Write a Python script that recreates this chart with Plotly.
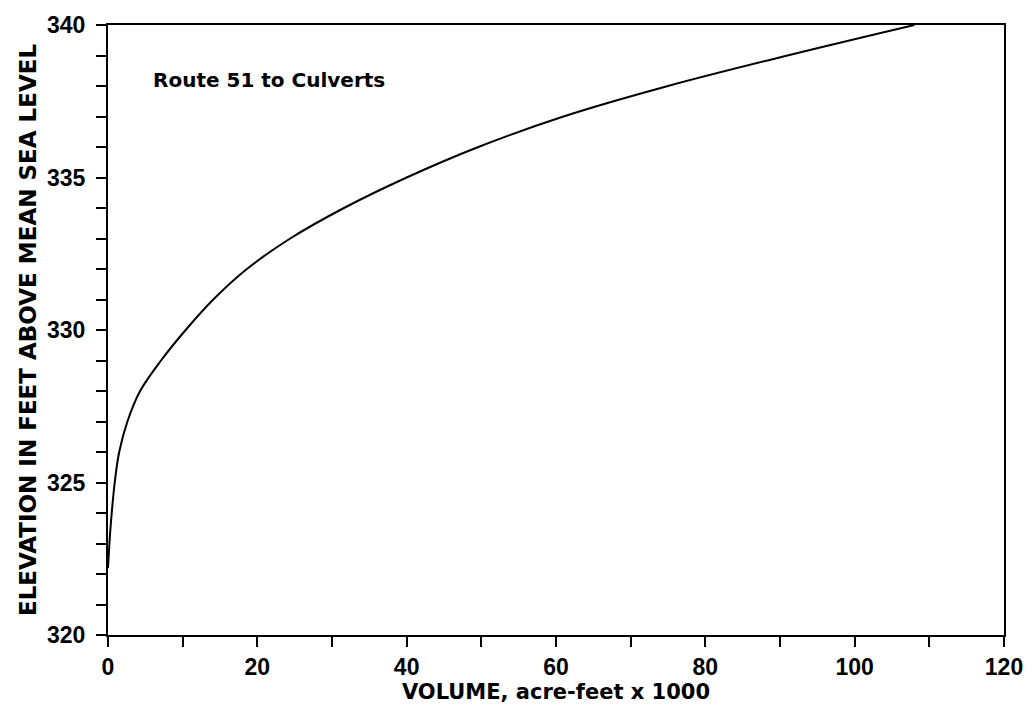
import plotly.graph_objects as go

volume = [0, 0.3, 0.5, 0.9, 1.5, 2.6, 4.3, 7.1, 10.4, 14.1, 18.6, 24.4, 31.6, 40.0, 49.6, 61.0, 75.0, 91.0, 108.0]
elevation = [322.2, 323.4, 324, 325, 326, 327, 328, 329, 330, 331, 332, 333, 334, 335, 336, 337, 338, 339, 340]

x_ticks = [0, 20, 40, 60, 80, 100, 120]
y_ticks = [320, 325, 330, 335, 340]

TICKFONT = "Liberation Sans"
TEXTFONT = "DejaVu Sans"

fig = go.Figure()
fig.add_trace(go.Scatter(x=volume, y=elevation, mode="lines",
                         line=dict(color="black", width=2, shape="spline", smoothing=1.0),
                         showlegend=False, hoverinfo="skip"))

fig.add_annotation(x=5.8, y=338.2, xref="x", yref="y", text="<b>Route 51 to Culverts</b>",
                   showarrow=False, xanchor="left", yanchor="middle",
                   font=dict(family=TEXTFONT, size=20, color="black"))

fig.update_xaxes(range=[0, 120], tickvals=x_ticks, ticktext=[f"<b>{v}</b>" for v in x_ticks],
                 ticks="outside", ticklen=10, tickwidth=2, tickcolor="black",
                 minor=dict(dtick=10, tick0=0, ticks="outside", ticklen=10, tickwidth=2, tickcolor="black"),
                 showline=True, linecolor="black", linewidth=2, mirror=True,
                 showgrid=False, zeroline=False,
                 tickfont=dict(family=TICKFONT, size=23, color="black"),
                 title=dict(text="<b>VOLUME, acre-feet x 1000</b>", standoff=6,
                            font=dict(family=TEXTFONT, size=21, color="black")))
fig.update_yaxes(range=[320, 340], tickvals=y_ticks, ticktext=[f"<b>{v}</b>" for v in y_ticks],
                 ticks="outside", ticklen=10, tickwidth=2, tickcolor="black",
                 ticklabelstandoff=6,
                 minor=dict(dtick=1, tick0=320, ticks="outside", ticklen=10, tickwidth=2, tickcolor="black"),
                 showline=True, linecolor="black", linewidth=2, mirror=True,
                 showgrid=False, zeroline=False,
                 tickfont=dict(family=TICKFONT, size=23, color="black"),
                 title=dict(text="<b>ELEVATION IN FEET ABOVE MEAN SEA LEVEL</b>", standoff=4,
                            font=dict(family=TEXTFONT, size=23, color="black")))

fig.update_layout(width=1035, height=716, margin=dict(l=108, r=28, t=17, b=81),
                  paper_bgcolor="white", plot_bgcolor="white")

fig.write_html("out.html")
